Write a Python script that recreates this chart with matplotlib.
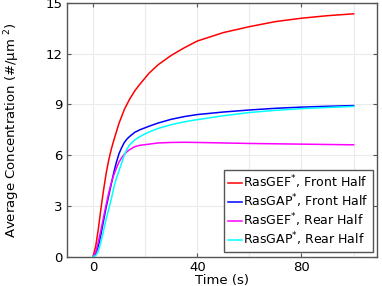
import matplotlib
matplotlib.use("Agg")
import matplotlib.pyplot as plt

# time points (s)
t = [0, 1, 2, 3, 4, 5, 6, 7, 8, 9, 10, 11, 12, 13, 14, 16, 18, 21.5,
     25, 30, 35, 40, 50, 60, 70, 80, 90, 100]

gef_front = [0, 0.6, 1.6, 2.8, 3.9, 4.9, 5.7, 6.35, 6.9, 7.4, 7.9, 8.3, 8.7, 9.0,
             9.3, 9.8, 10.2, 10.85, 11.35, 11.9, 12.35, 12.75, 13.25, 13.6,
             13.9, 14.1, 14.25, 14.36]
gap_front = [0, 0.15, 0.6, 1.3, 2.1, 2.9, 3.6, 4.3, 5.0, 5.6, 6.1, 6.45, 6.75, 6.95,
             7.1, 7.35, 7.5, 7.71, 7.9, 8.12, 8.28, 8.4, 8.55, 8.67, 8.77,
             8.84, 8.89, 8.93]
gef_rear = [0, 0.25, 0.85, 1.55, 2.3, 3.05, 3.75, 4.35, 4.85, 5.25, 5.6, 5.85, 6.05,
            6.2, 6.32, 6.5, 6.58, 6.65, 6.72, 6.75, 6.76, 6.75, 6.72, 6.69,
            6.67, 6.65, 6.63, 6.61]
gap_rear = [0, 0.05, 0.3, 0.85, 1.5, 2.2, 2.8, 3.4, 4.1, 4.65, 5.1, 5.55, 6.0, 6.35,
            6.6, 6.9, 7.1, 7.37, 7.58, 7.8, 7.97, 8.1, 8.33, 8.52, 8.65,
            8.75, 8.82, 8.88]

labels = ["RasGEF$^{*}$, Front Half", "RasGAP$^{*}$, Front Half",
          "RasGEF$^{*}$, Rear Half", "RasGAP$^{*}$, Rear Half"]
colors = ["#ff0000", "#0000ff", "#ff00ff", "#00ffff"]

fig = plt.figure(figsize=(3.82, 2.86), dpi=100)
ax = fig.add_axes([0.1754, 0.103, 0.8116, 0.8865])

for y, lab, c in zip([gef_front, gap_front, gef_rear, gap_rear], labels, colors):
    ax.plot(t, y, color=c, lw=1.1, label=lab)

ax.set_xlim(-10, 109)
ax.set_ylim(0, 15)
ax.set_xticks([0, 40, 80])
ax.set_xticks([20, 60, 100], minor=True)
ax.set_yticks([0, 3, 6, 9, 12, 15])
ax.grid(True, which="both", color="#ebebeb", lw=0.8)
ax.set_axisbelow(True)
ax.tick_params(which="major", direction="in", top=True, right=True,
               length=3, labelsize=9.5, color="#555555", pad=3)
ax.tick_params(which="minor", length=0)
for s in ax.spines.values():
    s.set_color("#555555")
    s.set_linewidth(1.0)

ax.set_xlabel("Time (s)", fontsize=9.5, labelpad=0)
ax.set_ylabel("Average Concentration (#/\u00b5m $^{2}$)", fontsize=9.5, labelpad=17)

leg = ax.legend(loc="lower right", fontsize=9, handlelength=1.1,
                handletextpad=0.15, borderpad=0.3, labelspacing=0.12,
                fancybox=False, framealpha=1, edgecolor="#555555",
                borderaxespad=0.35)
leg.get_frame().set_linewidth(1.0)

fig.savefig("out.png", dpi=100)
